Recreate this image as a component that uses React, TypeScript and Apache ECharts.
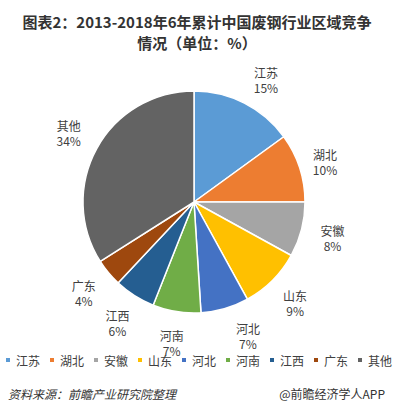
import React, { useEffect, useRef } from "react";
import * as echarts from "echarts";

const regions = ["江苏", "湖北", "安徽", "山东", "河北", "河南", "江西", "广东", "其他"];
const shares = [15, 10, 8, 9, 7, 7, 6, 4, 34];
const colors = ["#5B9BD5", "#ED7D31", "#A5A5A5", "#FFC000", "#4472C4", "#70AD47", "#255E91", "#9E480E", "#636363"];
const labelOffsets: Record<string, number[]> = { "江苏": [7, 5], "湖北": [-5, 4], "河北": [14, -3] };

const titleText = "图表2：2013-2018年6年累计中国废钢行业区域竞争\n情况（单位：%）";
const sourceText = "资料来源：前瞻产业研究院整理";
const brandText = "@前瞻经济学人APP";

const FONT = "'Noto Sans CJK SC', 'Noto Sans', sans-serif";

export default function App() {
  const ref = useRef<HTMLDivElement>(null);
  useEffect(() => {
    const chart = echarts.init(ref.current!, null, { renderer: "svg" });
    const data = regions.map((name, i) => ({ name, value: shares[i], itemStyle: { color: colors[i] } }));
    const labelData = regions.map((name, i) => ({
      name,
      value: shares[i],
      label: labelOffsets[name] ? { offset: labelOffsets[name] } : undefined,
    }));
    chart.setOption({
      animation: false,
      backgroundColor: "#fff",
      textStyle: { fontFamily: FONT },
      title: {
        text: titleText,
        left: 197,
        top: 11,
        padding: 0,
        textAlign: "center",
        textStyle: { fontSize: 15, fontWeight: "bold", color: "#333", lineHeight: 21, fontFamily: FONT },
      },
      legend: {
        data: regions,
        left: 4,
        top: 354,
        width: 390,
        padding: 0,
        icon: "rect",
        itemWidth: 6,
        itemHeight: 6,
        itemGap: 8,
        textStyle: { fontSize: 12, color: "#404040", fontFamily: FONT },
        selectedMode: false,
      },
      series: [
        {
          type: "pie",
          center: [194, 202],
          radius: [0, 111],
          startAngle: 90,
          clockwise: true,
          silent: true,
          data,
          label: { show: false },
          labelLine: { show: false },
          itemStyle: { borderColor: "#fff", borderWidth: 1.5 },
        },
        {
          type: "pie",
          center: [194, 202],
          radius: [0, 280],
          startAngle: 90,
          clockwise: true,
          silent: true,
          data: labelData,
          itemStyle: { color: "rgba(0,0,0,0)" },
          labelLine: { show: false },
          label: {
            show: true,
            position: "inside",
            formatter: "{b}\n{c}%",
            fontSize: 12,
            lineHeight: 15,
            color: "#404040",
            fontFamily: FONT,
            align: "center",
          },
        },
      ],
      graphic: [
        {
          type: "text",
          left: 8,
          top: 387,
          style: { text: sourceText, font: `italic 12px ${FONT}`, fill: "#333" },
        },
        {
          type: "text",
          right: 9,
          top: 387,
          style: { text: brandText, font: `12px ${FONT}`, fill: "#333" },
        },
      ],
    });
    return () => chart.dispose();
  }, []);
  return <div ref={ref} style={{ position: "absolute", left: 0, top: 0, width: 394, height: 413 }} />;
}
